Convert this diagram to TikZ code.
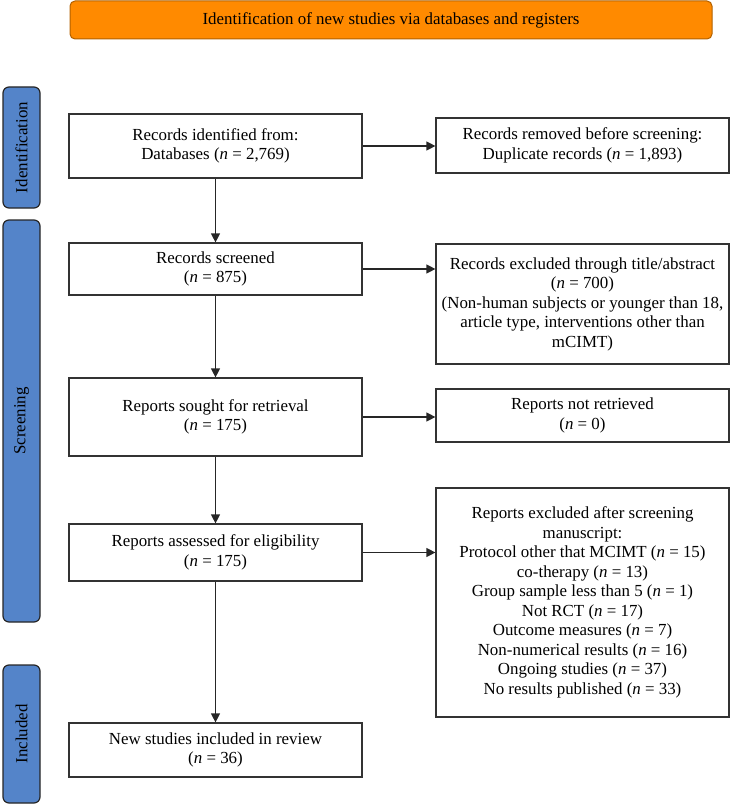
\documentclass[tikz,border=0pt]{standalone}
\usepackage{fontspec}
\setmainfont{Liberation Serif}
\usepackage{xcolor}
\usetikzlibrary{arrows.meta,positioning}
\definecolor{phaseblue}{RGB}{84,132,201}
\definecolor{bannerorange}{RGB}{255,138,0}
\newcommand{\boxfont}{\fontsize{16.9}{19.5}\selectfont}

\begin{document}
\begin{tikzpicture}[x=1pt,y=-1pt,
  box/.style={draw=black!80,line width=1.2pt,fill=white,minimum width=293pt,align=center,font=\boxfont,inner sep=2pt},
  phase/.style={draw=black!85,line width=1.2pt,fill=phaseblue,rounded corners=6pt,rotate=90,minimum height=37pt,font=\boxfont,inner sep=0pt},
  arr/.style={-{Triangle[length=9pt,width=9pt]},line width=1.2pt,draw=black!85}]
\useasboundingbox (0,0) rectangle (737,805);
\node[draw=bannerorange!70!black,line width=1pt,fill=bannerorange,rounded corners=5pt,minimum width=642pt,minimum height=38pt,font=\boxfont] (banner) at (391,20) {Identification of new studies via databases and registers};
\node[phase,minimum width=121pt] (idlab) at (21.5,147.5) {Identification};
\node[phase,minimum width=402pt] (scrlab) at (21.5,421) {Screening};
\node[phase,minimum width=138pt] (inclab) at (21.5,734) {Included};
\node[box,minimum height=64pt] (ident) at (215.5,146) {Records identified from:\\Databases (\textit{n} = 2,769)};
\node[box,minimum height=52pt] (screened) at (215.5,269) {Records screened\\(\textit{n} = 875)};
\node[box,minimum height=78pt] (sought) at (215.5,417) {Reports sought for retrieval\\(\textit{n} = 175)};
\node[box,minimum height=57pt] (assessed) at (215.5,552.5) {Reports assessed for eligibility\\(\textit{n} = 175)};
\node[box,minimum height=54pt] (included) at (215.5,750) {New studies included in review\\(\textit{n} = 36)};
\node[box,minimum height=55pt] (removed) at (582.5,145.5) {Records removed before screening:\\Duplicate records (\textit{n} = 1,893)};
\node[box,minimum height=120pt] (excltitle) at (582.5,304) {Records excluded through title/abstract\\(\textit{n} = 700)\\(Non-human subjects or younger than 18,\\article type, interventions other than\\mCIMT)};
\node[box,minimum height=53pt] (notretr) at (582.5,415.5) {Reports not retrieved\\(\textit{n} = 0)};
\node[box,minimum height=229pt] (exclrep) at (582.5,602.5) {Reports excluded after screening\\manuscript:\\Protocol other that MCIMT (\textit{n} = 15)\\co-therapy (\textit{n} = 13)\\Group sample less than 5 (\textit{n} = 1)\\Not RCT (\textit{n} = 17)\\Outcome measures (\textit{n} = 7)\\Non-numerical results (\textit{n} = 16)\\Ongoing studies (\textit{n} = 37)\\No results published (\textit{n} = 33)};
\draw[arr] (ident) -- (screened);
\draw[arr] (screened) -- (sought);
\draw[arr] (sought) -- (assessed);
\draw[arr] (assessed) -- (included);
\draw[arr] (ident.east) -- (ident.east -| removed.west);
\draw[arr] (screened.east) -- (screened.east -| excltitle.west);
\draw[arr] (sought.east) -- (sought.east -| notretr.west);
\draw[arr] (assessed.east) -- (assessed.east -| exclrep.west);
\end{tikzpicture}
\end{document}
